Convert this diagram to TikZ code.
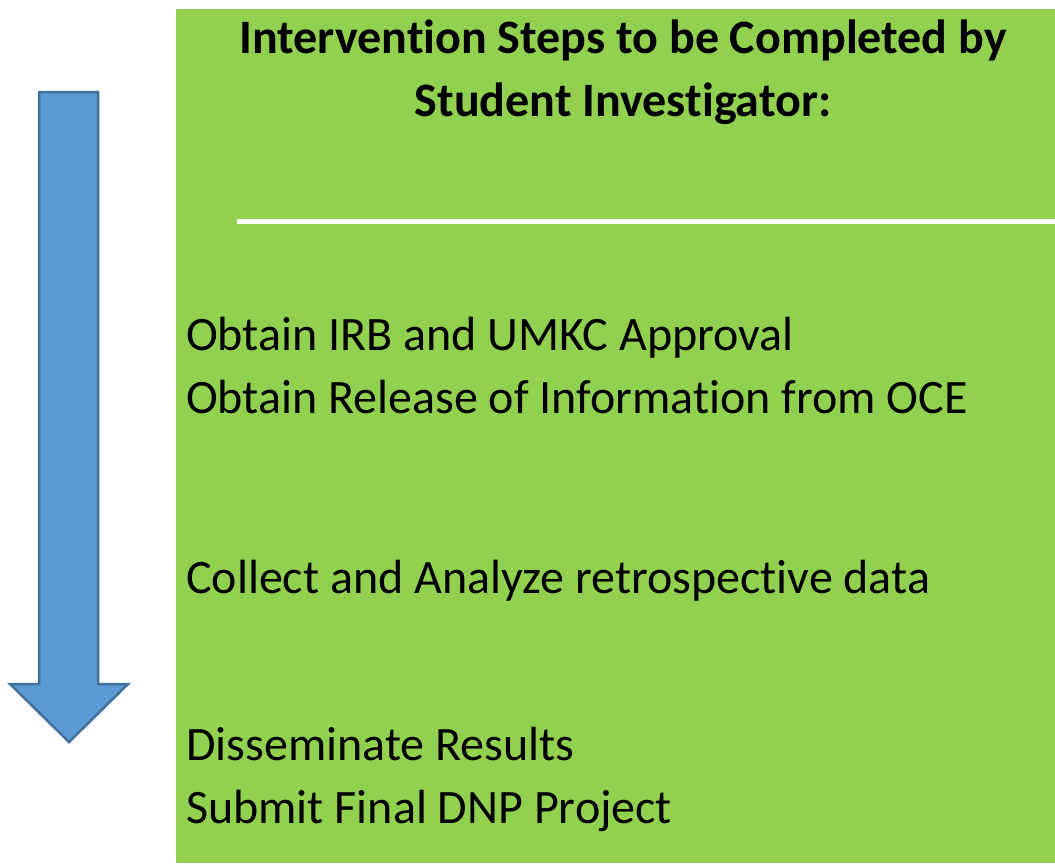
\documentclass[tikz,border=0pt]{standalone}
\usepackage{fontspec}
\setmainfont[Ligatures={NoCommon}]{Carlito}
\definecolor{panelgreen}{HTML}{92D050}
\definecolor{arrowfill}{HTML}{5B9BD5}
\definecolor{arrowedge}{HTML}{41719C}
\begin{document}
\begin{tikzpicture}[x=1pt,y=-1pt,
  steptext/.style={anchor=base west,inner sep=0pt,font=\fontsize{48}{62}\selectfont},
  titletext/.style={anchor=base,inner sep=0pt,font=\fontsize{48}{62}\selectfont\bfseries}]
  \useasboundingbox (0,0) rectangle (1055,863);
  % green panel
  \fill[panelgreen] (176,9) rectangle (1055,863);
  % downward arrow
  \draw[fill=arrowfill,draw=arrowedge,line width=2.5pt,line join=miter]
    (39,92) -- (98,92) -- (98,684) -- (128,684) -- (69,742) -- (10,684) -- (39,684) -- cycle;
  % heading, two centred lines
  \node[titletext] (title1) at (623,53) {Intervention Steps to be Completed by};
  \node[titletext] (title2) at (623,116) {Student Investigator:};
  % separator rule
  \coordinate (ruleL) at (237,221);
  \coordinate (ruleR) at (1055,221);
  \draw[white,line width=5pt] (ruleL) -- (ruleR);
  % steps
  \node[steptext] (s1) at (186,350) {Obtain IRB and UMKC Approval};
  \node[steptext] (s2) at (186,413) {Obtain Release of Information from OCE};
  \node[steptext] (s3) at (186,593) {Collect and Analyze retrospective data};
  \node[steptext] (s4) at (186,760) {Disseminate Results};
  \node[steptext] (s5) at (186,823) {Submit Final DNP Project};
\end{tikzpicture}
\end{document}
